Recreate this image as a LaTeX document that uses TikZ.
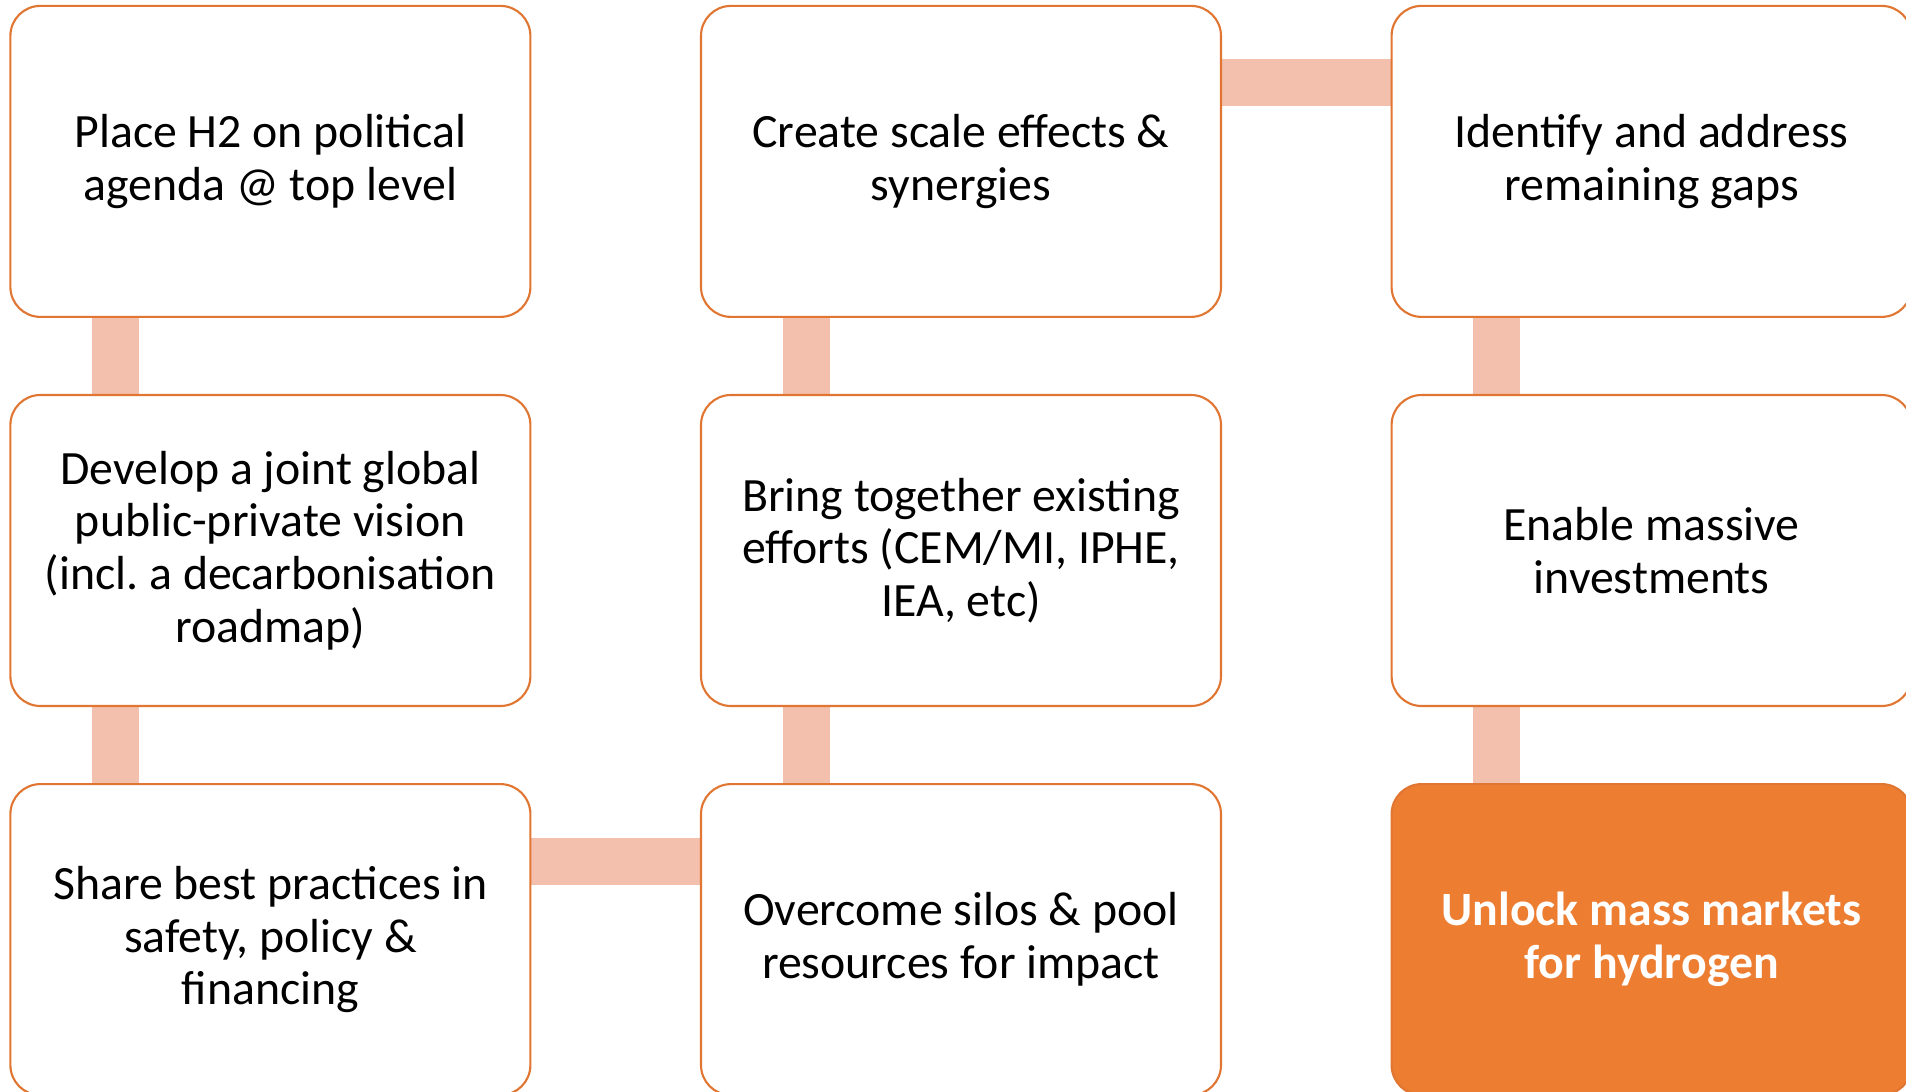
\documentclass[tikz, border = 0pt]{standalone}
\usepackage{fontspec}
\setmainfont{Carlito}
\usetikzlibrary{positioning, backgrounds}
\frenchspacing

\definecolor{boxline}{RGB}{224, 118, 50}
\definecolor{boxfill}{RGB}{237, 125, 49}
\definecolor{barfill}{RGB}{244, 192, 174}

\tikzset{
	card/.style = {draw = boxline, line width = 0.6 pt, fill = white, rounded corners = 0.3 cm,
		minimum width = 5.2 cm, minimum height = 3.11 cm, outer sep = 0 pt, align = center,
		font = \fontsize{13.6pt}{15pt}\selectfont},
	goal/.style = {card, fill = boxfill, text = white, font = \fontsize{13.6pt}{15pt}\selectfont\bfseries},
	bar/.style = {draw = none, fill = barfill}
}

\begin{document}
\begin{tikzpicture}

\path [use as bounding box, clip] (0, 0) rectangle (19.06, 10.91);

\matrix [column sep = 1.685 cm, row sep = 0.76 cm] at (9.61, 5.405) {

	% First row
	
	\node [card] (place) {Place H2 on political\\agenda @ top level}; &
	\node [card] (scale) {Create scale effects \&\\synergies}; &
	\node [card] (gaps) {Identify and address\\remaining gaps};
	
\\

	% Second row
	
	\node [card] (vision) {Develop a joint global\\public-private vision\\(incl. a decarbonisation\\roadmap)}; &
	\node [card] (efforts) {Bring together existing\\efforts (CEM/MI, IPHE,\\IEA, etc)}; &
	\node [card] (invest) {Enable massive\\investments};
	
\\

	% Third row
	
	\node [card] (practices) {Share best practices in\\safety, policy \&\\financing}; &
	\node [card] (silos) {Overcome silos \& pool\\resources for impact}; &
	\node [goal] (markets) {Unlock mass markets\\for hydrogen};
	
\\
};

\begin{pgfonlayer}{background}

	% Vertical links
	
	\fill [bar] ([xshift = 0.815 cm] place.south west) rectangle ([xshift = 1.285 cm] vision.north west);
	\fill [bar] ([xshift = 0.815 cm] vision.south west) rectangle ([xshift = 1.285 cm] practices.north west);
	\fill [bar] ([xshift = 0.815 cm] silos.north west) rectangle ([xshift = 1.285 cm] efforts.south west);
	\fill [bar] ([xshift = 0.815 cm] efforts.north west) rectangle ([xshift = 1.285 cm] scale.south west);
	\fill [bar] ([xshift = 0.815 cm] gaps.south west) rectangle ([xshift = 1.285 cm] invest.north west);
	\fill [bar] ([xshift = 0.815 cm] invest.south west) rectangle ([xshift = 1.285 cm] markets.north west);
	
	% Horizontal links
	
	\fill [bar] ([yshift = -0.535 cm] practices.north east) rectangle ([yshift = -1.005 cm] silos.north west);
	\fill [bar] ([yshift = -0.535 cm] scale.north east) rectangle ([yshift = -1.005 cm] gaps.north west);

\end{pgfonlayer}

\end{tikzpicture}
\end{document}
